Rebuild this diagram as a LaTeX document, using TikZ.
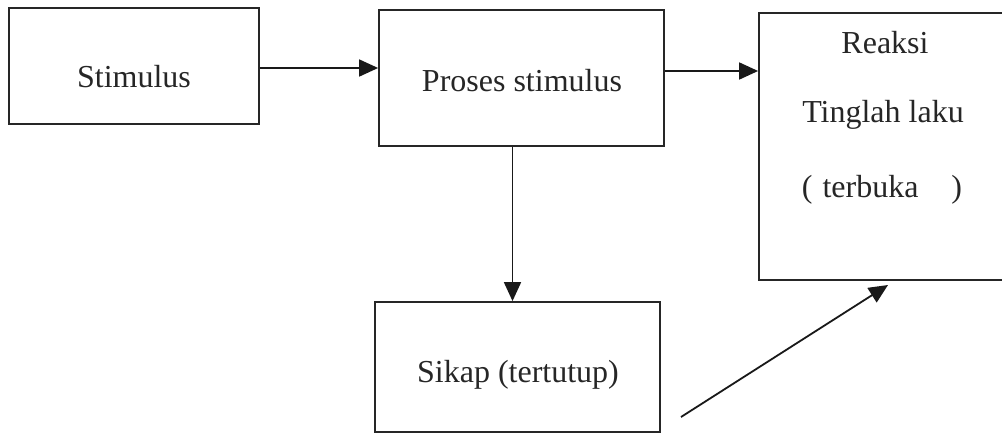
\documentclass[tikz,border=0pt]{standalone}
\usepackage{fontspec}
\setmainfont{Liberation Serif}
\usetikzlibrary{arrows.meta}
\begin{document}
\begin{tikzpicture}[x=1pt,y=-1pt,
  box/.style={draw=black!85,line width=1.8pt,rectangle,inner sep=0pt},
  lbl/.style={anchor=base,inner sep=0pt,font=\fontsize{32}{36}\selectfont,text=black!85},
  conn/.style={draw=black!90,line width=1.8pt,-{Triangle[length=19pt,width=17pt]}}]
\useasboundingbox (0,0) rectangle (1002,434);
\clip (0,0) rectangle (1002,434);
\node[box,minimum width=250pt,minimum height=116pt] (stim) at (134,66) {};
\node[box,minimum width=285pt,minimum height=136pt] (proses) at (521.5,78) {};
\node[box,minimum width=280pt,minimum height=267pt] (reaksi) at (899,146.5) {};
\node[box,minimum width=285pt,minimum height=130pt] (sikap) at (517.5,367) {};
\node[lbl] (stimT) at (134,87) {Stimulus};
\node[lbl] (prosT) at (522,91) {Proses stimulus};
\node[lbl] (r1) at (885,53) {Reaksi};
\node[lbl] (r2) at (883,122) {Tinglah laku};
\node[lbl] (r3) at (882,197) {(\hspace{10pt}terbuka\hspace{33pt})};
\node[lbl] (sikT) at (518,382) {Sikap (tertutup)};
\coordinate (d1) at (681,417);
\coordinate (d2) at (888,285);
\draw[conn] ([yshift=-2pt]stim.east) -- ([yshift=-2pt]stim.east -| proses.west);
\draw[conn] ([yshift=7pt]proses.east) -- ([yshift=7pt]proses.east -| reaksi.west);
\draw[conn] ([xshift=-9pt]proses.south) -- ([xshift=-9pt]proses.south |- sikap.north);
\draw[conn] (d1) -- (d2);
\end{tikzpicture}
\end{document}
